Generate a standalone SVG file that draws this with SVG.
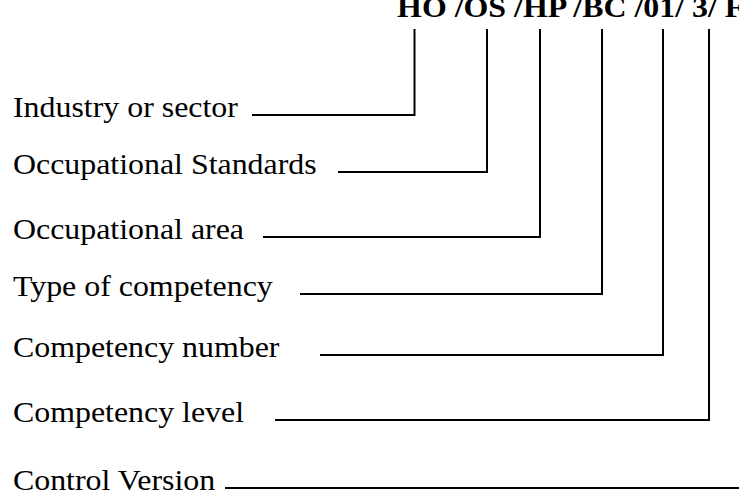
<svg xmlns="http://www.w3.org/2000/svg" width="739" height="502" viewBox="0 0 739 502">
  <style>
    .code { font-family: "Liberation Serif", "Times New Roman", serif; font-weight: bold; font-size: 29px; fill: #000; }
    .label { font-family: "Liberation Serif", "Times New Roman", serif; font-size: 29px; fill: #000; }
    .wire { fill: none; stroke: #000; stroke-width: 2; }
  </style>
  <rect x="0" y="0" width="739" height="502" fill="#fff"/>

  <!-- code string, stretched slightly wider than tall -->
  <g id="code" transform="matrix(1.1 0 0 1 0 0)">
    <text class="code" x="361" y="17">HO /OS /HP /BC /01/ 3/ F</text>
  </g>

  <g id="labels" transform="matrix(1.1 0 0 1 0 0)">
    <g id="industry"><text class="label" x="11.8" y="117">Industry or sector</text></g>
    <g id="standards"><text class="label" x="11.8" y="174">Occupational Standards</text></g>
    <g id="area"><text class="label" x="11.8" y="239">Occupational area</text></g>
    <g id="type"><text class="label" x="11.8" y="296">Type of competency</text></g>
    <g id="number"><text class="label" x="11.8" y="357">Competency number</text></g>
    <g id="level"><text class="label" x="11.8" y="422">Competency level</text></g>
    <g id="version"><text class="label" x="11.8" y="490">Control Version</text></g>
  </g>

  <!-- leader lines from each label up to its code segment -->
  <g id="connectors">
    <polyline class="wire" points="252,115 414.5,115 414.5,29"/>
    <polyline class="wire" points="338,172 487,172 487,29"/>
    <polyline class="wire" points="263,237 540,237 540,29"/>
    <polyline class="wire" points="300,294 602,294 602,29"/>
    <polyline class="wire" points="320,355 663,355 663,29"/>
    <polyline class="wire" points="275,420 709,420 709,29"/>
    <line class="wire" x1="225" y1="488" x2="739" y2="488"/>
  </g>
</svg>
